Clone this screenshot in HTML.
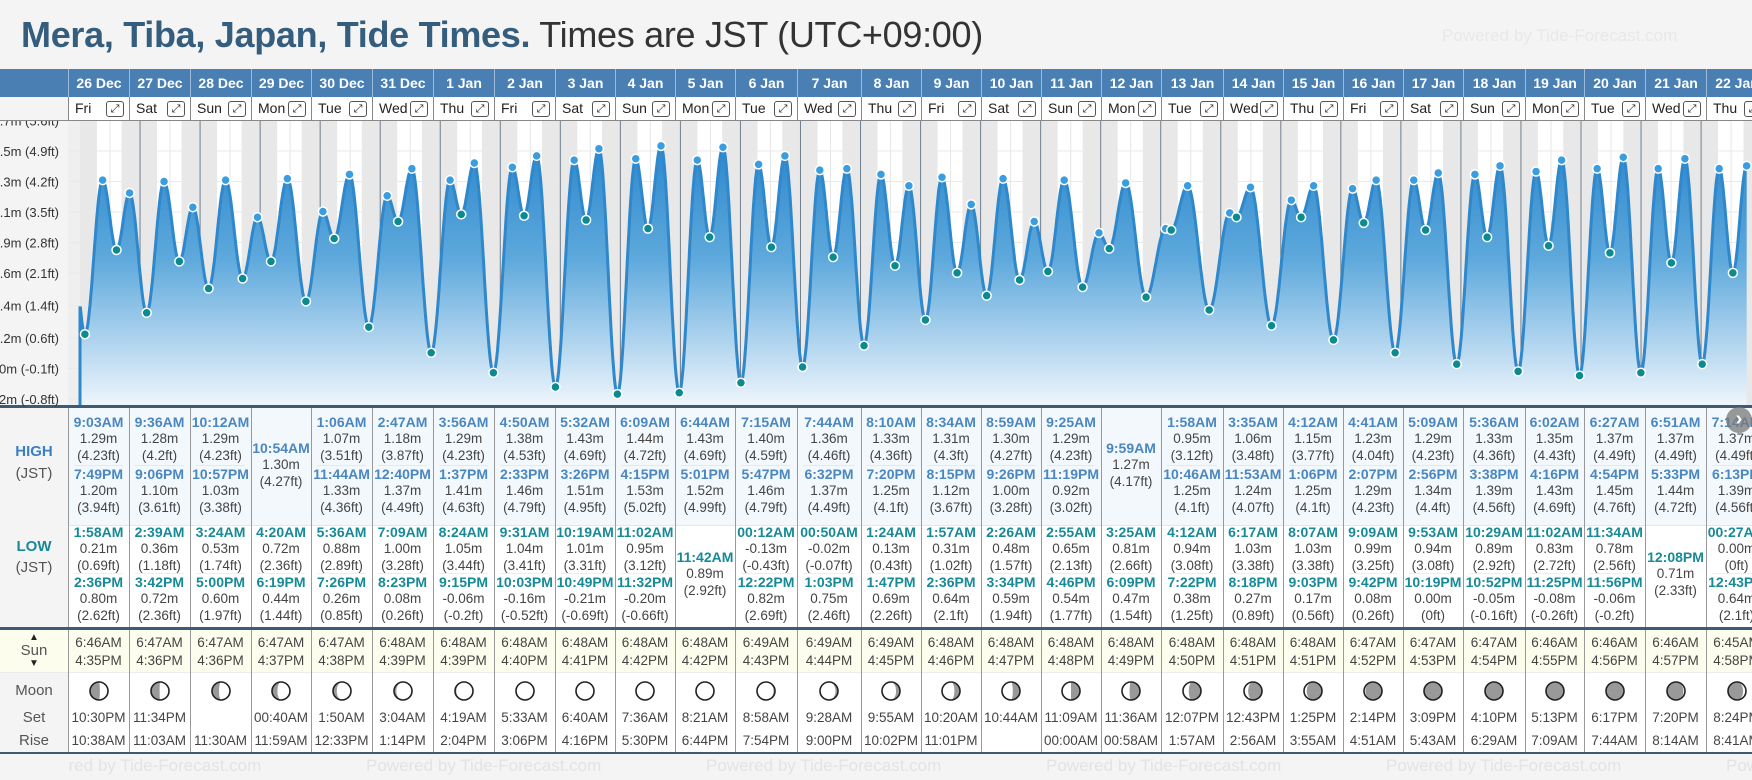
<!DOCTYPE html>
<html><head><meta charset="utf-8">
<style>
*{margin:0;padding:0;box-sizing:border-box}
body{width:1752px;height:780px;overflow:hidden;background:#f4f4f4;font-family:"Liberation Sans",sans-serif;position:relative}
.abs{position:absolute}
#tbl{position:absolute;left:0;top:0;width:1752px;height:780px;overflow:hidden}
</style></head>
<body>
<div class="abs" style="left:21px;top:14px;font-size:36px;white-space:nowrap;letter-spacing:-0.3px"><b style="color:#355d7e">Mera, Tiba, Japan, Tide Times.</b> <span style="color:#333">Times are JST (UTC+09:00)</span></div>
<div class="abs" style="left:1442px;top:26px;font-size:17px;color:#e8e8e8;white-space:nowrap">Powered by Tide-Forecast.com</div>
<svg id="chart" class="abs" style="left:0;top:0" width="1752" height="780"></svg>
<div id="tbl"></div>
<script>
const dates=["26 Dec","27 Dec","28 Dec","29 Dec","30 Dec","31 Dec","1 Jan","2 Jan","3 Jan","4 Jan","5 Jan","6 Jan","7 Jan","8 Jan","9 Jan","10 Jan","11 Jan","12 Jan","13 Jan","14 Jan","15 Jan","16 Jan","17 Jan","18 Jan","19 Jan","20 Jan","21 Jan","22 Jan"];
const weekdays=["Fri","Sat","Sun","Mon","Tue","Wed","Thu","Fri","Sat","Sun","Mon","Tue","Wed","Thu","Fri","Sat","Sun","Mon","Tue","Wed","Thu","Fri","Sat","Sun","Mon","Tue","Wed","Thu"];
const highTimes=[["9:03AM","7:49PM"],["9:36AM","9:06PM"],["10:12AM","10:57PM"],["10:54AM"],["1:06AM","11:44AM"],["2:47AM","12:40PM"],["3:56AM","1:37PM"],["4:50AM","2:33PM"],["5:32AM","3:26PM"],["6:09AM","4:15PM"],["6:44AM","5:01PM"],["7:15AM","5:47PM"],["7:44AM","6:32PM"],["8:10AM","7:20PM"],["8:34AM","8:15PM"],["8:59AM","9:26PM"],["9:25AM","11:19PM"],["9:59AM"],["1:58AM","10:46AM"],["3:35AM","11:53AM"],["4:12AM","1:06PM"],["4:41AM","2:07PM"],["5:09AM","2:56PM"],["5:36AM","3:38PM"],["6:02AM","4:16PM"],["6:27AM","4:54PM"],["6:51AM","5:33PM"],["7:14AM","6:13PM"]];
const highVals=[[1.29,1.20],[1.28,1.10],[1.29,1.03],[1.30],[1.07,1.33],[1.18,1.37],[1.29,1.41],[1.38,1.46],[1.43,1.51],[1.44,1.53],[1.43,1.52],[1.40,1.46],[1.36,1.37],[1.33,1.25],[1.31,1.12],[1.30,1.00],[1.29,0.92],[1.27],[0.95,1.25],[1.06,1.24],[1.15,1.25],[1.23,1.29],[1.29,1.34],[1.33,1.39],[1.35,1.43],[1.37,1.45],[1.37,1.44],[1.37,1.39]];
const lowTimes=[["1:58AM","2:36PM"],["2:39AM","3:42PM"],["3:24AM","5:00PM"],["4:20AM","6:19PM"],["5:36AM","7:26PM"],["7:09AM","8:23PM"],["8:24AM","9:15PM"],["9:31AM","10:03PM"],["10:19AM","10:49PM"],["11:02AM","11:32PM"],["11:42AM"],["00:12AM","12:22PM"],["00:50AM","1:03PM"],["1:24AM","1:47PM"],["1:57AM","2:36PM"],["2:26AM","3:34PM"],["2:55AM","4:46PM"],["3:25AM","6:09PM"],["4:12AM","7:22PM"],["6:17AM","8:18PM"],["8:07AM","9:03PM"],["9:09AM","9:42PM"],["9:53AM","10:19PM"],["10:29AM","10:52PM"],["11:02AM","11:25PM"],["11:34AM","11:56PM"],["12:08PM"],["00:27AM","12:43PM"]];
const lowVals=[[0.21,0.80],[0.36,0.72],[0.53,0.60],[0.72,0.44],[0.88,0.26],[1.00,0.08],[1.05,-0.06],[1.04,-0.16],[1.01,-0.21],[0.95,-0.20],[0.89],[-0.13,0.82],[-0.02,0.75],[0.13,0.69],[0.31,0.64],[0.48,0.59],[0.65,0.54],[0.81,0.47],[0.94,0.38],[1.03,0.27],[1.03,0.17],[0.99,0.08],[0.94,0.00],[0.89,-0.05],[0.83,-0.08],[0.78,-0.06],[0.71],[0.00,0.64]];
const sunrise=["6:46AM","6:47AM","6:47AM","6:47AM","6:47AM","6:48AM","6:48AM","6:48AM","6:48AM","6:48AM","6:48AM","6:49AM","6:49AM","6:49AM","6:48AM","6:48AM","6:48AM","6:48AM","6:48AM","6:48AM","6:48AM","6:47AM","6:47AM","6:47AM","6:46AM","6:46AM","6:46AM","6:45AM"];
const sunset=["4:35PM","4:36PM","4:36PM","4:37PM","4:38PM","4:39PM","4:39PM","4:40PM","4:41PM","4:42PM","4:42PM","4:43PM","4:44PM","4:45PM","4:46PM","4:47PM","4:48PM","4:49PM","4:50PM","4:51PM","4:51PM","4:52PM","4:53PM","4:54PM","4:55PM","4:56PM","4:57PM","4:58PM"];
const moonSet=["10:30PM","11:34PM","","00:40AM","1:50AM","3:04AM","4:19AM","5:33AM","6:40AM","7:36AM","8:21AM","8:58AM","9:28AM","9:55AM","10:20AM","10:44AM","11:09AM","11:36AM","12:07PM","12:43PM","1:25PM","2:14PM","3:09PM","4:10PM","5:13PM","6:17PM","7:20PM","8:24PM"];
const moonRise=["10:38AM","11:03AM","11:30AM","11:59AM","12:33PM","1:14PM","2:04PM","3:06PM","4:16PM","5:30PM","6:44PM","7:54PM","9:00PM","10:02PM","11:01PM","","00:00AM","00:58AM","1:57AM","2:56AM","3:55AM","4:51AM","5:43AM","6:29AM","7:09AM","7:44AM","8:14AM","8:41AM"];
const moonIllum=[0.45,0.52,0.61,0.70,0.79,0.87,0.93,0.97,1.0,0.99,0.97,0.92,0.86,0.78,0.69,0.60,0.50,0.42,0.32,0.23,0.15,0.08,0.03,0.0,0.01,0.04,0.09,0.16];
const moonWaxing=[1,1,1,1,1,1,1,1,1,0,0,0,0,0,0,0,0,0,0,0,0,0,0,0,1,1,1,1];
const priorHighT=-0.18, priorHighV=1.20;
const tickVals=[-0.244,-0.03,0.183,0.411,0.64,0.853,1.067,1.28,1.494,1.707];
const tickLabels=["-0.2m (-0.8ft)","0m (-0.1ft)","0.2m (0.6ft)","0.4m (1.4ft)","0.6m (2.1ft)","0.9m (2.8ft)","1.1m (3.5ft)","1.3m (4.2ft)","1.5m (4.9ft)","1.7m (5.6ft)"];

const bounds=[68,129,190,251,311,372,433,494,555,615,675,735,797,861,921,981,1041,1101,1161,1223,1283,1343,1403,1463,1525,1584,1645,1706,1767];
const X0=80, DAY=60.04, CT=121, CB=405;
const xT=t=>X0+t*DAY;
const yV=v=>399-(v+0.244)*142.7;
function parseT(s){const m=s.match(/(\d+):(\d+)(AM|PM)/);let h=(+m[1])%12;if(m[3]=="PM")h+=12;return (h+(+m[2])/60)/24;}
function ft(v){let f=Math.round(v*3.28084*100)/100;if(Object.is(f,-0))f=0;return "("+String(f)+"ft)";}
const NS="http://www.w3.org/2000/svg";
const svg=document.getElementById('chart');
function S(tag,attrs,parent){const e=document.createElementNS(NS,tag);for(const k in attrs)e.setAttribute(k,attrs[k]);(parent||svg).appendChild(e);return e;}

const clip=S('clipPath',{id:'cc'},S('defs',{}));
S('rect',{x:68,y:CT,width:1684,height:CB-CT},clip);
const g=S('g',{'clip-path':'url(#cc)'});
S('rect',{x:68,y:CT,width:1684,height:CB-CT,fill:'#efefef'},g);
for(let d=0;d<dates.length;d++){
  const r=parseT(sunrise[d]), s=parseT(sunset[d]);
  const band=S('rect',{x:xT(d),y:CT,width:DAY,height:CB-CT,fill:'#e8e8e8'},g);
  
  
  const day=S('rect',{x:xT(d+r),y:CT,width:(s-r)*DAY,height:CB-CT,fill:'#ffffff'},g);
  
  
  S('line',{x1:xT(d+0.5),x2:xT(d+0.5),y1:CT,y2:CB,stroke:'#e6e6e6','stroke-width':1},g);
}
tickVals.forEach(v=>S('line',{x1:68,x2:1752,y1:yV(v),y2:yV(v),stroke:'#e9e9e9','stroke-width':1},g));
for(let d=1;d<dates.length;d++){
  const sep=S('line',{x1:xT(d),x2:xT(d),y1:CT,y2:CB,stroke:'#6f7f8f','stroke-width':1},g);
  
  
}
const ext=[];
for(let d=0;d<dates.length;d++){
  highTimes[d].forEach((t,i)=>ext.push({t:d+parseT(t),v:highVals[d][i],h:1}));
  lowTimes[d].forEach((t,i)=>ext.push({t:d+parseT(t),v:lowVals[d][i],h:0}));
}
ext.sort((a,b)=>a.t-b.t);
const pts=[{t:priorHighT,v:priorHighV}].concat(ext);
let path="";
for(let i=0;i<pts.length-1;i++){
  const a=pts[i],b=pts[i+1];
  for(let k=0;k<=24;k++){
    const t=a.t+(b.t-a.t)*k/24;
    if(t<0)continue;
    const v=a.v+(b.v-a.v)*(1-Math.cos(Math.PI*k/24))/2;
    path+=(path?"L":"M")+xT(t).toFixed(1)+","+yV(v).toFixed(1);
  }
}
const defs=S('defs',{});
const lg=S('linearGradient',{id:'fg',x1:0,y1:140,x2:0,y2:405,gradientUnits:'userSpaceOnUse'},defs);
S('stop',{offset:0,'stop-color':'#2a86cc'},lg);
S('stop',{offset:0.45,'stop-color':'#5ea9dc'},lg);
S('stop',{offset:1,'stop-color':'#eef5fc'},lg);
const lastX=xT(pts[pts.length-1].t);
const area=S('path',{d:path+"L"+lastX+","+CB+"L"+X0+","+CB+"Z",fill:'url(#fg)'},g);


const line=S('path',{d:path+"M"+X0+","+CB+"L"+X0+","+yV(0.405),fill:'none',stroke:'#2f87cc','stroke-width':3,'stroke-linejoin':'round'},g);


ext.forEach(e=>{
  const c=S('circle',{cx:xT(e.t),cy:yV(e.v),r:4.5,fill:e.h?'#3a9de0':'#0b8a8f',stroke:'#fff','stroke-width':1.5},g);
  
  
});
S('rect',{x:0,y:CB,width:1752,height:3,fill:'#3f5a73'});
tickVals.forEach((v,i)=>{
  const t=S('text',{x:59,y:yV(v)+5,'text-anchor':'end','font-size':13,fill:'#333','font-family':'Liberation Sans, sans-serif'});
  t.textContent=tickLabels[i];
  
  
});

const root=document.getElementById('tbl');
function D(style,html,name,inter){const e=document.createElement('div');e.className='abs';e.setAttribute('style',style);if(html!=null)e.innerHTML=html;root.appendChild(e);return e;}
D('left:0;top:69px;width:1752px;height:28px;background:#4a7fb3','', 'date-header-row',false);
D('left:0;top:97px;width:1752px;height:24px;background:#fff;border-bottom:1px solid #888','', 'weekday-row',false);
D('left:0;top:97px;width:68px;height:24px;background:#f4f4f4;border-bottom:1px solid #888','', 'weekday-row-spacer',false);
D('left:68px;top:408px;width:1684px;height:117px;background:#f3f8fd','', 'high-section-bg',false);
D('left:68px;top:525px;width:1684px;height:102px;background:#fff;border-top:1px solid #e6e6e6','', 'low-section-bg',false);
D('left:0;top:627px;width:1752px;height:3px;background:#3f5a73','', 'sun-separator',false);
D('left:0;top:630px;width:1752px;height:43px;background:#fdfdee;border-bottom:1px solid #ececec','', 'sun-section-bg',false);
D('left:68px;top:673px;width:1684px;height:79px;background:#fff','', 'moon-section-bg',false);
D('left:0;top:752px;width:1752px;height:2px;background:#3f5a73','', 'table-bottom-line',false);
const L='font-size:15px;color:#555;width:68px;text-align:center;left:0;';
D(L+'top:443px;color:#3b80c4;font-weight:bold','HIGH','high-label',false);
D(L+'top:465px','(JST)','high-jst-label',false);
D(L+'top:538px;color:#168a96;font-weight:bold','LOW','low-label',false);
D(L+'top:559px','(JST)','low-jst-label',false);
D(L+'top:632px;font-size:10px;color:#222','▲','sunrise-arrow',false);
D(L+'top:642px','Sun','sun-label',false);
D(L+'top:658px;font-size:10px;color:#222','▼','sunset-arrow',false);
D(L+'top:682px','Moon','moon-label',false);
D(L+'top:709px','Set','moonset-label',false);
D(L+'top:732px','Rise','moonrise-label',false);
for(let k=0;k<6;k++){
  D('left:'+(26+340*k)+'px;top:756px;font-size:17px;color:#e3e3e3;white-space:nowrap','Powered by Tide-Forecast.com','footer-watermark',false);
}
D('left:0;top:754px;width:68px;height:26px;background:#f4f4f4','', 'footer-left',false);

function moonPath(f,wax){const r=9,s=wax?-1:1,rx=Math.abs(1-2*f)*r;const b=f<0.5?-s:s;
  return "M0,"+(-r)+"A"+r+","+r+" 0 0 "+(s<0?0:1)+" 0,"+r+"A"+rx+","+r+" 0 0 "+(b>0?0:1)+" 0,"+(-r)+"Z";}

for(let d=0;d<dates.length;d++){
  const x=bounds[d], w=bounds[d+1]-bounds[d];
  const C='left:'+x+'px;width:'+w+'px;';
  D(C+'top:69px;height:28px;border-left:1px solid #9dbad8;color:#fff;font-weight:bold;font-size:14px;text-align:center;line-height:28px',dates[d],'date-header',false);
  D(C+'top:97px;height:24px;border-left:1px solid #888','', 'weekday-cell',false);
  D('left:'+(x+7)+'px;top:100px;font-size:14px;color:#222',weekdays[d],'weekday-label',false);
  D('left:'+(x+w-23)+'px;top:101px;width:18px;height:16px;border:1px solid #555;border-radius:3px;background:#fff;font-size:11px;line-height:14px;text-align:center;color:#222','⤢','expand-day-button',true);
  D(C+'top:408px;height:219px;border-left:1px solid #999','', 'day-column-border',false);
  D(C+'top:630px;height:122px;border-left:1px solid #999','', 'day-column-border-lower',false);
  const cx=x+w/2;
  function entry(top,time,val,col,name){
    D('left:'+x+'px;width:'+w+'px;top:'+top+'px;text-align:center;font-weight:bold;font-size:14px;color:'+col,time,name+'-time',false);
    D('left:'+x+'px;width:'+w+'px;top:'+(top+17)+'px;text-align:center;font-size:13.5px;color:#444',val.toFixed(2)+'m',name+'-height-m',false);
    D('left:'+x+'px;width:'+w+'px;top:'+(top+34)+'px;text-align:center;font-size:13.5px;color:#444',ft(val),name+'-height-ft',false);
  }
  if(highTimes[d].length==2){
    entry(414,highTimes[d][0],highVals[d][0],'#4a87c0','high-tide');
    D('left:'+(x+6)+'px;width:'+(w-12)+'px;top:465px;height:1px;background:#e2e9f0','', 'entry-divider',false);
    entry(466,highTimes[d][1],highVals[d][1],'#4a87c0','high-tide');
  } else entry(440,highTimes[d][0],highVals[d][0],'#4a87c0','high-tide');
  if(lowTimes[d].length==2){
    entry(524,lowTimes[d][0],lowVals[d][0],'#168a96','low-tide');
    D('left:'+(x+6)+'px;width:'+(w-12)+'px;top:573px;height:1px;background:#eeeeee','', 'entry-divider',false);
    entry(574,lowTimes[d][1],lowVals[d][1],'#168a96','low-tide');
  } else entry(549,lowTimes[d][0],lowVals[d][0],'#168a96','low-tide');
  D(C+'top:635px;text-align:center;font-size:13.5px;color:#444',sunrise[d],'sunrise-time',false);
  D(C+'top:653px;text-align:center;font-size:13.5px;color:#444',sunset[d],'sunset-time',false);
  D(C+'top:710px;text-align:center;font-size:13.5px;color:#444',moonSet[d],'moonset-time',false);
  D(C+'top:733px;text-align:center;font-size:13.5px;color:#444',moonRise[d],'moonrise-time',false);
  D('left:'+(cx-11)+'px;top:680px;width:22px;height:22px','<svg width="22" height="22" viewBox="-11 -11 22 22"><circle r="9" fill="#fff"/><path d="'+moonPath(moonIllum[d],moonWaxing[d])+'" fill="#999"/><circle r="9" fill="none" stroke="#222" stroke-width="1.6"/></svg>','moon-phase-icon',false);
}
D('left:1726px;top:407px;width:26px;height:26px;border-radius:13px;background:rgba(120,120,120,0.75);color:#fff;font-size:20px;line-height:24px;text-align:center;font-weight:bold','›','scroll-right-button',true);
</script>
</body></html>
